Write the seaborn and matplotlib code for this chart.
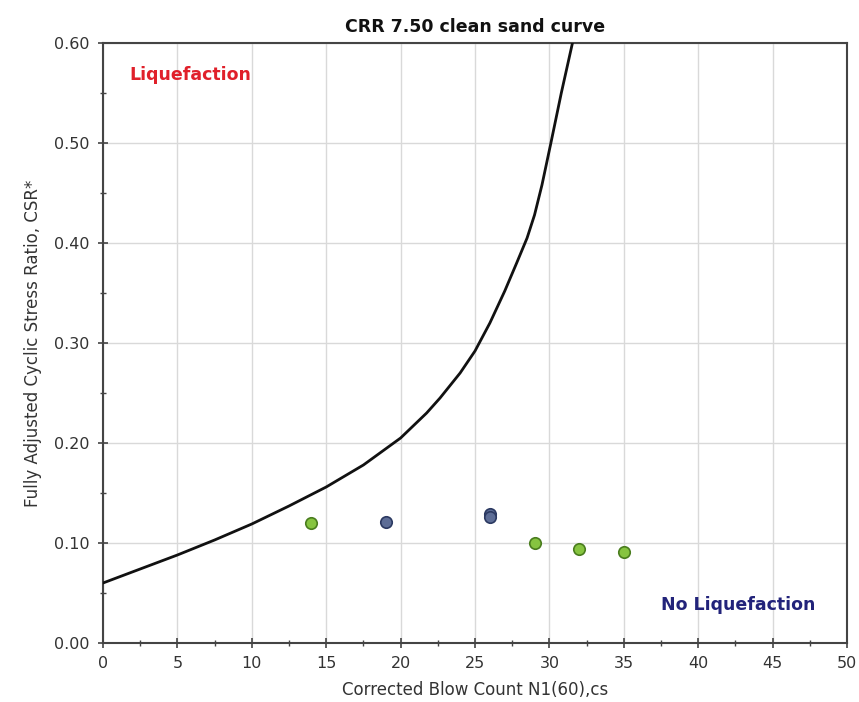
import matplotlib
matplotlib.use("Agg")
import matplotlib.pyplot as plt
import seaborn as sns
import pandas as pd
from matplotlib.ticker import MultipleLocator, FormatStrFormatter

# Curve values
curve_n = [0, 2.5, 5, 7.5, 10, 12.5, 15, 17.5, 20, 21.75, 22.65, 24.0, 25.0, 26.0, 27.0,
           27.8, 28.5, 29.0, 29.5, 30.1, 30.8, 31.55]
curve_crr = [0.060, 0.074, 0.088, 0.103, 0.119, 0.137, 0.156, 0.178, 0.205, 0.230, 0.245,
             0.270, 0.292, 0.320, 0.352, 0.380, 0.405, 0.428, 0.458, 0.500, 0.550, 0.600]

# Data points
green_n = [14, 29, 32, 35]
green_csr = [0.120, 0.100, 0.094, 0.091]
blue_n = [19, 26, 26]
blue_csr = [0.121, 0.129, 0.126]

title = "CRR 7.50 clean sand curve"
xlabel = "Corrected Blow Count N1(60),cs"
ylabel = "Fully Adjusted Cyclic Stress Ratio, CSR*"

sns.set_theme(style="white")
plt.rcParams['font.family'] = ['DejaVu Sans']

fig = plt.figure(figsize=(8.59, 7.02), dpi=100)
ax = fig.add_axes([103/859, 1-643/702, (847-103)/859, (643-43)/702])

curve_df = pd.DataFrame({"N": curve_n, "CRR": curve_crr})
green_df = pd.DataFrame({"N": green_n, "CSR": green_csr})
blue_df = pd.DataFrame({"N": blue_n, "CSR": blue_csr})

sns.lineplot(data=curve_df, x="N", y="CRR", ax=ax, color="#111111", linewidth=2.0,
             sort=False, zorder=3)
sns.scatterplot(data=green_df, x="N", y="CSR", ax=ax, color="#86c440", edgecolor="#4a7d1e",
                linewidth=1.2, s=68, zorder=4)
sns.scatterplot(data=blue_df, x="N", y="CSR", ax=ax, color="#5d6d96", edgecolor="#2c3a62",
                linewidth=1.2, s=68, zorder=4)

ax.set_xlim(0, 50)
ax.set_ylim(0, 0.60)
ax.xaxis.set_major_locator(MultipleLocator(5))
ax.xaxis.set_minor_locator(MultipleLocator(2.5))
ax.yaxis.set_major_locator(MultipleLocator(0.1))
ax.yaxis.set_minor_locator(MultipleLocator(0.05))
ax.yaxis.set_major_formatter(FormatStrFormatter('%.2f'))

ax.grid(True, which="major", color="#d9d9d9", linewidth=1.0, zorder=0)
ax.set_axisbelow(True)
for sp in ax.spines.values():
    sp.set_color("#444444")
    sp.set_linewidth(1.5)

ax.tick_params(axis="both", which="major", direction="inout", length=7, width=1.2,
               color="#444444", labelsize=11.5, labelcolor="#333333",
               bottom=True, left=True)
ax.tick_params(axis="x", which="major", pad=6)
ax.tick_params(axis="y", which="major", pad=6)
ax.tick_params(axis="both", which="minor", direction="inout", length=4, width=1.0,
               color="#444444", bottom=True, left=True)

ax.set_xlabel(xlabel, fontsize=12, color="#333333", labelpad=7)
ax.set_ylabel(ylabel, fontsize=12, color="#333333", labelpad=9)
ax.set_title(title, fontsize=12.5, fontweight="bold", color="#111111", pad=8)

ax.text(1.8, 0.568, "Liquefaction", color="#e0202a", fontsize=12.5, fontweight="bold",
        ha="left", va="center")
ax.text(37.5, 0.038, "No Liquefaction", color="#22237a", fontsize=12.5, fontweight="bold",
        ha="left", va="center")

fig.savefig("out.png", dpi=100)
